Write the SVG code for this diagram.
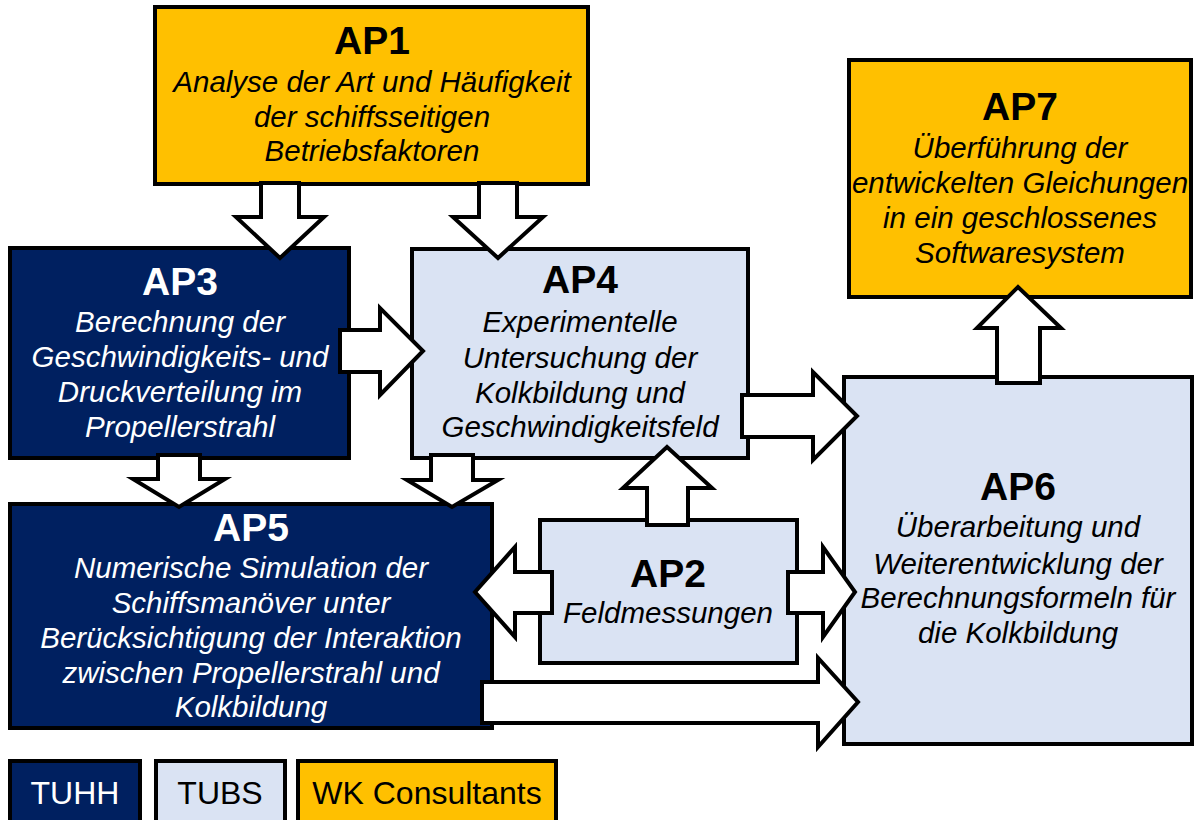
<svg xmlns="http://www.w3.org/2000/svg" width="1194" height="820" viewBox="0 0 1194 820">
<style>
.box{stroke:#000;stroke-width:4;stroke-linejoin:miter}
.gold{fill:#FFC000}
.navy{fill:#002060}
.light{fill:#DAE3F3}
.t{font-family:"Liberation Sans",Arial,sans-serif;text-anchor:middle}
.h{font-size:39px;font-weight:bold}
.b{font-size:29.5px;font-style:italic}
.lg{font-size:32px}
.dk{fill:#000}
.wh{fill:#fff}
.arr{fill:#fff;stroke:#000;stroke-width:4;stroke-linejoin:miter}
</style>
<rect width="1194" height="820" fill="#fff"/>
<g id="AP1">
<rect class="box gold" x="155" y="7" width="433" height="177"/>
<text class="t h dk" x="372" y="54">AP1</text>
<text class="t b dk" x="372" y="92">Analyse der Art und Häufigkeit</text>
<text class="t b dk" x="372" y="127">der schiffsseitigen</text>
<text class="t b dk" x="372" y="161">Betriebsfaktoren</text>
</g>
<g id="AP7">
<rect class="box gold" x="849" y="60" width="342" height="237"/>
<text class="t h dk" x="1020" y="120">AP7</text>
<text class="t b dk" x="1020" y="158">Überführung der</text>
<text class="t b dk" x="1020" y="193">entwickelten Gleichungen</text>
<text class="t b dk" x="1020" y="228">in ein geschlossenes</text>
<text class="t b dk" x="1020" y="263">Softwaresystem</text>
</g>
<g id="AP3">
<rect class="box navy" x="10" y="248" width="339" height="210"/>
<text class="t h wh" x="180" y="295">AP3</text>
<text class="t b wh" x="180" y="332">Berechnung der</text>
<text class="t b wh" x="180" y="367">Geschwindigkeits- und</text>
<text class="t b wh" x="180" y="402">Druckverteilung im</text>
<text class="t b wh" x="180" y="437">Propellerstrahl</text>
</g>
<g id="AP4">
<rect class="box light" x="412" y="249" width="336" height="209"/>
<text class="t h dk" x="580" y="293">AP4</text>
<text class="t b dk" x="580" y="332">Experimentelle</text>
<text class="t b dk" x="580" y="368">Untersuchung der</text>
<text class="t b dk" x="580" y="403">Kolkbildung und</text>
<text class="t b dk" x="580" y="437">Geschwindigkeitsfeld</text>
</g>
<g id="AP5">
<rect class="box navy" x="10" y="504" width="482" height="224"/>
<text class="t h wh" x="251" y="541">AP5</text>
<text class="t b wh" x="251" y="578">Numerische Simulation der</text>
<text class="t b wh" x="251" y="613">Schiffsmanöver unter</text>
<text class="t b wh" x="251" y="648">Berücksichtigung der Interaktion</text>
<text class="t b wh" x="251" y="683">zwischen Propellerstrahl und</text>
<text class="t b wh" x="251" y="717">Kolkbildung</text>
</g>
<g id="AP2">
<rect class="box light" x="540" y="520" width="257" height="143"/>
<text class="t h dk" x="668" y="587">AP2</text>
<text class="t b dk" x="668" y="623">Feldmessungen</text>
</g>
<g id="AP6">
<rect class="box light" x="844" y="377" width="348" height="367"/>
<text class="t h dk" x="1018" y="500">AP6</text>
<text class="t b dk" x="1018" y="537">Überarbeitung und</text>
<text class="t b dk" x="1018" y="574">Weiterentwicklung der</text>
<text class="t b dk" x="1018" y="608">Berechnungsformeln für</text>
<text class="t b dk" x="1018" y="643">die Kolkbildung</text>
</g>
<g id="connectors">
<polygon class="arr" points="261,183 299,183 299,217 324,217 280,258 236,217 261,217"/>
<polygon class="arr" points="479,183 517,183 517,217 543,217 498,258 453,217 479,217"/>
<polygon class="arr" points="340,330 380,330 380,308 423,351 380,395 380,372 340,372"/>
<polygon class="arr" points="158,455 200,455 200,479 225,479 179,507 133,479 158,479"/>
<polygon class="arr" points="431,455 473,455 473,480 498,480 452,507 407,480 431,480"/>
<polygon class="arr" points="742,395 813,395 813,372 857,416 813,460 813,437 742,437"/>
<polygon class="arr" points="647,525 647,488 623,488 667,447 712,488 688,488 688,525"/>
<polygon class="arr" points="552,572 515,572 515,547 475,592 515,637 515,613 552,613"/>
<polygon class="arr" points="788,572 823,572 823,547 855,592 823,637 823,613 788,613"/>
<polygon class="arr" points="482,682 818,682 818,658 858,702 818,747 818,723 482,723"/>
<polygon class="arr" points="997,383 997,328 977,328 1018,287 1061,328 1040,328 1040,383"/>
</g>
<g id="legend">
<g id="legend-TUHH">
<rect class="box navy" x="10" y="761" width="130" height="70"/>
<text class="t lg wh" x="75" y="804">TUHH</text>
</g>
<g id="legend-TUBS">
<rect class="box light" x="156" y="761" width="129" height="70"/>
<text class="t lg dk" x="220" y="804">TUBS</text>
</g>
<g id="legend-WK">
<rect class="box gold" x="298" y="761" width="258" height="70"/>
<text class="t lg dk" x="427" y="804">WK Consultants</text>
</g>
</g>
</svg>
